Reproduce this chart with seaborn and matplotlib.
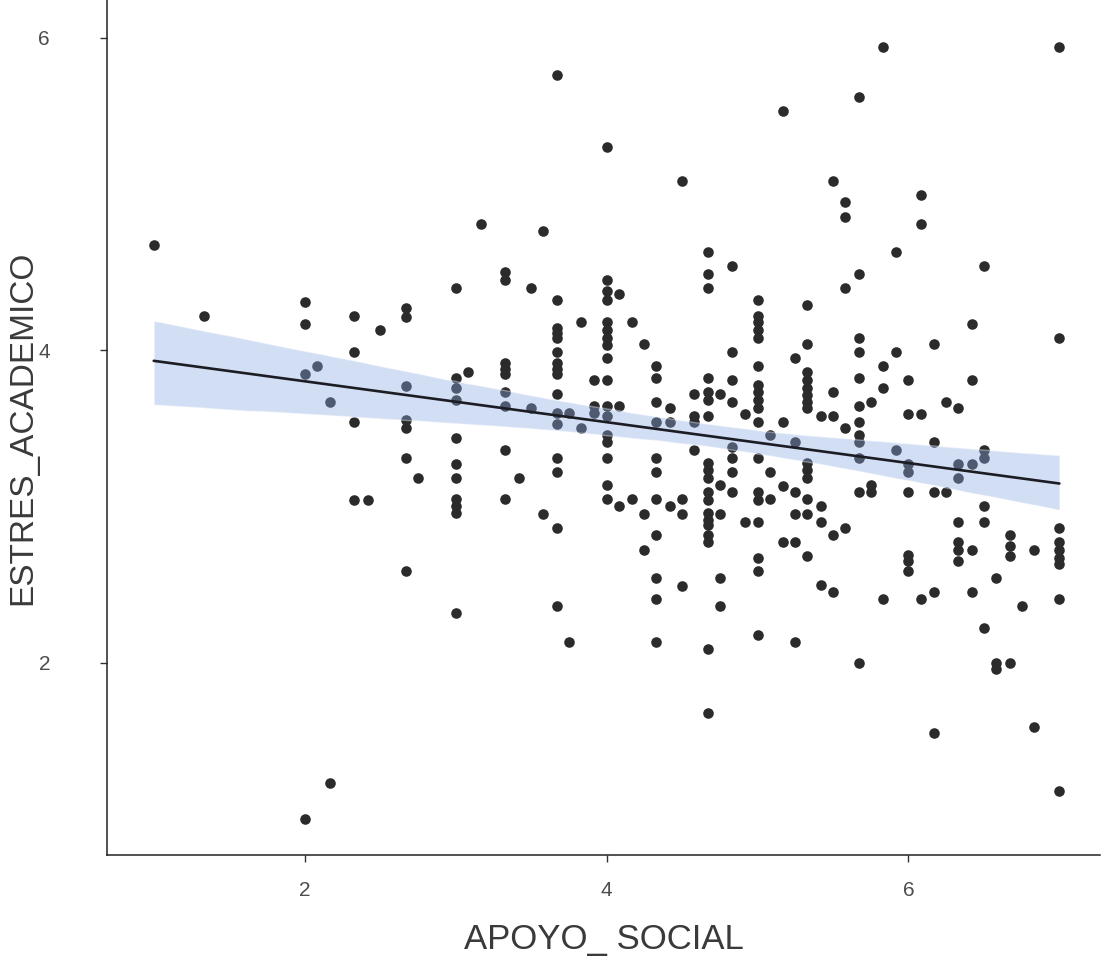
import matplotlib
matplotlib.use("Agg")
import matplotlib.pyplot as plt
import pandas as pd
import seaborn as sns

# APOYO_SOCIAL levels (x) and the ESTRES_ACADEMICO values observed at each level (y)
apoyo_levels = [1.0, 1.33, 2.0, 2.08, 2.17, 2.33, 2.42, 2.5, 2.67, 2.75,
                3.0, 3.08, 3.17, 3.33, 3.42, 3.5, 3.58, 3.67, 3.75, 3.83,
                3.92, 4.0, 4.08, 4.17, 4.25, 4.33, 4.42, 4.5, 4.58, 4.67,
                4.75, 4.83, 4.92, 5.0, 5.08, 5.17, 5.25, 5.33, 5.42, 5.5,
                5.58, 5.67, 5.75, 5.83, 5.92, 6.0, 6.08, 6.17, 6.25, 6.33,
                6.42, 6.5, 6.58, 6.67, 6.75, 6.83, 7.0]

estres_by_level = [
    [4.67],
    [4.22],
    [4.31, 4.17, 3.85, 1.00],
    [3.90],
    [3.67, 1.23],
    [4.22, 3.99, 3.54, 3.04],
    [3.04],
    [4.13],
    [4.27, 4.21, 3.77, 3.55, 3.50, 3.31, 2.59],
    [3.18],
    [4.40, 3.82, 3.76, 3.68, 3.44, 3.27, 3.18, 3.05, 3.00, 2.96, 2.32],
    [3.86],
    [4.81],
    [4.50, 4.45, 3.92, 3.88, 3.85, 3.73, 3.64, 3.36, 3.05],
    [3.18],
    [4.40, 3.63],
    [4.76, 2.95],
    [5.76, 4.32, 4.14, 4.11, 4.08, 3.99, 3.92, 3.88, 3.85, 3.72, 3.60, 3.53, 3.31, 3.22, 2.86, 2.36],
    [3.60, 2.13],
    [4.18, 3.50],
    [3.81, 3.64, 3.60],
    [5.30, 4.45, 4.38, 4.32, 4.18, 4.13, 4.08, 4.03, 3.95, 3.81, 3.64, 3.58, 3.46, 3.41, 3.31, 3.14, 3.05],
    [4.36, 3.64, 3.00],
    [4.18, 3.05],
    [4.04, 2.95, 2.72],
    [3.90, 3.82, 3.67, 3.54, 3.31, 3.22, 3.05, 2.82, 2.54, 2.41, 2.13],
    [3.63, 3.54, 3.00],
    [5.08, 3.05, 2.95, 2.49],
    [3.72, 3.58, 3.54, 3.36],
    [4.63, 4.49, 4.40, 3.82, 3.73, 3.68, 3.58, 3.28, 3.23, 3.18, 3.09, 3.04, 2.96, 2.91, 2.88, 2.82, 2.77, 2.09, 1.68],
    [3.72, 3.14, 2.95, 2.54, 2.36],
    [4.54, 3.99, 3.81, 3.67, 3.38, 3.31, 3.22, 3.09],
    [3.59, 2.90],
    [4.32, 4.22, 4.18, 4.13, 4.08, 3.90, 3.78, 3.73, 3.68, 3.63, 3.54, 3.31, 3.09, 3.04, 2.90, 2.67, 2.59, 2.18],
    [3.46, 3.22, 3.05],
    [5.53, 3.54, 3.13, 2.77],
    [3.95, 3.41, 3.09, 2.95, 2.77, 2.13],
    [4.29, 4.04, 3.86, 3.81, 3.76, 3.71, 3.67, 3.63, 3.28, 3.23, 3.18, 3.05, 2.95, 2.68],
    [3.58, 3.00, 2.90, 2.50],
    [5.08, 3.73, 3.58, 2.82, 2.45],
    [4.95, 4.85, 4.40, 3.50, 2.86],
    [5.62, 4.49, 4.08, 3.99, 3.82, 3.64, 3.54, 3.46, 3.41, 3.31, 3.09, 2.00],
    [3.67, 3.14, 3.09],
    [5.94, 3.90, 3.76, 2.41],
    [4.63, 3.99, 3.36],
    [3.81, 3.59, 3.27, 3.22, 3.09, 2.69, 2.65, 2.59],
    [4.99, 4.81, 3.59, 2.41],
    [4.04, 3.41, 3.09, 2.45, 1.55],
    [3.67, 3.09],
    [3.63, 3.27, 3.18, 2.90, 2.77, 2.72, 2.65],
    [4.17, 3.81, 3.27, 2.72, 2.45],
    [4.54, 3.36, 3.31, 3.00, 2.90, 2.22],
    [2.54, 2.00, 1.96],
    [2.82, 2.75, 2.68, 2.00],
    [2.36],
    [2.72, 1.59],
    [5.94, 4.08, 2.86, 2.77, 2.72, 2.67, 2.63, 2.41, 1.18],
]

x_ticks = [2, 4, 6]
y_ticks = [2, 4, 6]

rows = [(x, y) for x, ys in zip(apoyo_levels, estres_by_level) for y in ys]
df = pd.DataFrame(rows, columns=["APOYO_SOCIAL", "ESTRES_ACADEMICO"])

sns.set_style("ticks")
plt.rcParams["font.family"] = ["Liberation Sans", "DejaVu Sans"]

fig = plt.figure(figsize=(11.06, 9.57), dpi=100)
ax = fig.add_axes([0.0967, 0.1066, 0.898, 0.8934])

# points + confidence band
sns.regplot(data=df, x="APOYO_SOCIAL", y="ESTRES_ACADEMICO", ax=ax, ci=90, seed=3,
            color="#7fa0e0",
            scatter_kws={"s": 58, "color": "#2b2b2b", "linewidths": 0, "alpha": 1},
            line_kws={"alpha": 0})
band = ax.collections[-1]
band.set_facecolor("#8aa9e4")
band.set_alpha(0.38)

# fitted line on top
sns.regplot(data=df, x="APOYO_SOCIAL", y="ESTRES_ACADEMICO", ax=ax, ci=None,
            scatter=False, color="#1c1c24", line_kws={"linewidth": 1.9})

ax.set_xlim(0.69, 7.27)
ax.set_ylim(0.77, 6.24)
ax.set_xticks(x_ticks)
ax.set_yticks(y_ticks)
ax.tick_params(axis="both", length=5, width=1, color="#333333",
               labelsize=15, labelcolor="#4d4d4d")
ax.tick_params(axis="x", pad=14)
ax.tick_params(axis="y", pad=36)
for side in ["left", "bottom"]:
    ax.spines[side].set_color("#222222")
    ax.spines[side].set_linewidth(1.1)
sns.despine(ax=ax)

ax.set_xlabel("APOYO_ SOCIAL", fontsize=25, color="#3a3a3a", labelpad=16)
ax.set_ylabel("ESTRES_ACADEMICO", fontsize=24, color="#3a3a3a")
ax.yaxis.set_label_coords(-0.069, 0.5)

fig.savefig("out.png", dpi=100)
plt.close(fig)
